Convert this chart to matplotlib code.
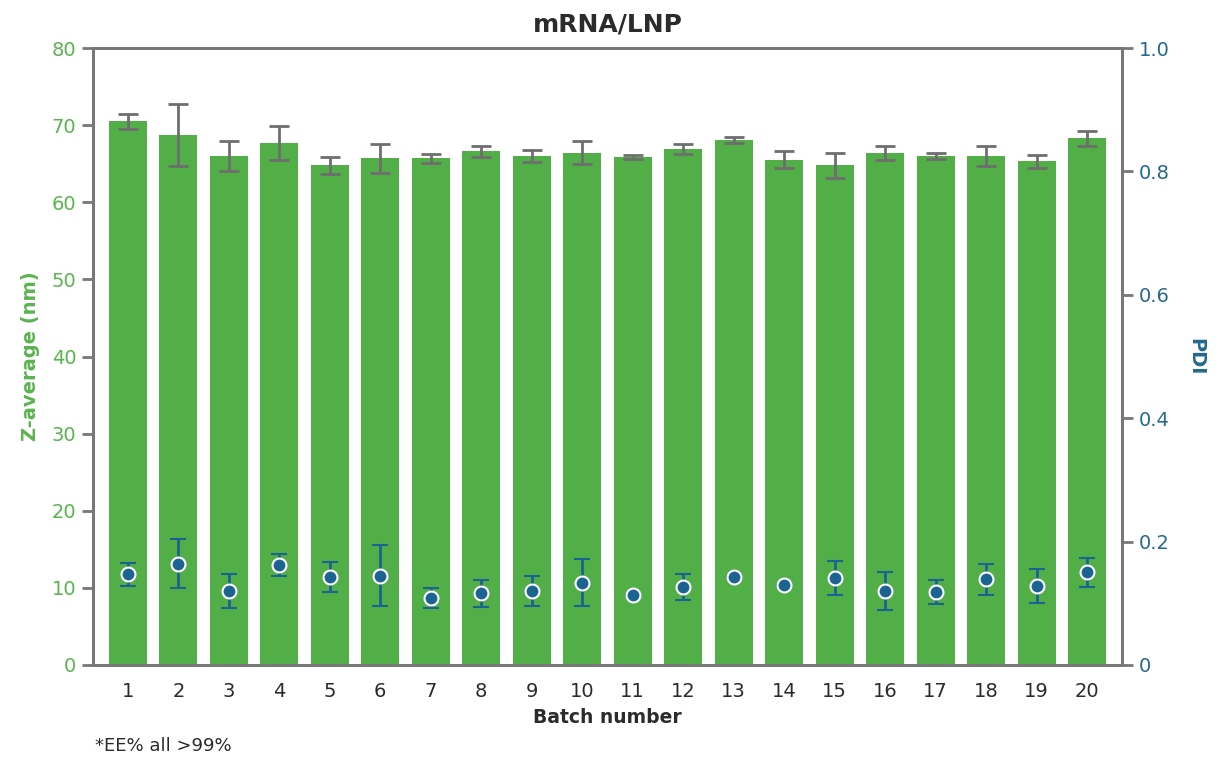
import matplotlib
matplotlib.use("Agg")
import matplotlib.pyplot as plt
import numpy as np

batches = list(range(1, 21))
z_avg = [70.5, 68.7, 66.0, 67.7, 64.8, 65.7, 65.7, 66.6, 66.0, 66.4,
         65.9, 66.9, 68.1, 65.5, 64.8, 66.4, 66.0, 66.0, 65.3, 68.3]
z_err = [1.0, 4.0, 2.0, 2.2, 1.1, 1.85, 0.55, 0.7, 0.75, 1.5,
         0.25, 0.6, 0.35, 1.1, 1.65, 0.9, 0.45, 1.35, 0.8, 1.0]
pdi = [0.147, 0.164, 0.120, 0.162, 0.143, 0.145, 0.108, 0.116, 0.120, 0.133,
       0.114, 0.126, 0.143, 0.130, 0.141, 0.120, 0.118, 0.139, 0.128, 0.150]
pdi_err = [0.019, 0.040, 0.028, 0.018, 0.024, 0.049, 0.016, 0.022, 0.024, 0.038,
           0.0, 0.021, 0.0, 0.0, 0.028, 0.031, 0.019, 0.025, 0.027, 0.024]
left_ticks = [0, 10, 20, 30, 40, 50, 60, 70, 80]
right_ticks = [0, 0.2, 0.4, 0.6, 0.8, 1.0]
right_labels = ["0", "0.2", "0.4", "0.6", "0.8", "1.0"]

GREEN = "#52ae47"
GREEN_TXT = "#5bb450"
BLUE = "#1b6391"
BLUE_TXT = "#23698f"
GRAY = "#777777"
DARK = "#2b2b2b"

plt.rcParams['font.family'] = ['DejaVu Sans']

fig = plt.figure(figsize=(12.19, 7.60), dpi=100)
ax = fig.add_axes([0.0763, 0.125, 0.9204 - 0.0763, 0.9368 - 0.125])
ax2 = ax.twinx()

ax.bar(batches, z_avg, width=0.75, color=GREEN, zorder=2)
ax.errorbar(batches, z_avg, yerr=z_err, fmt='none', ecolor="#6e6e6e",
            elinewidth=2, capsize=7, capthick=2, zorder=3)

ax2.errorbar(batches, pdi, yerr=pdi_err, fmt='o', color=BLUE, ecolor=BLUE,
             elinewidth=2, capsize=6, capthick=2, markersize=10,
             markeredgecolor='white', markeredgewidth=1.5, zorder=4)

ax.set_xlim(0.31, 20.69)
ax.set_ylim(0, 80)
ax2.set_ylim(0, 1.0)

ax.set_yticks(left_ticks)
ax.set_yticklabels([str(t) for t in left_ticks])
ax2.set_yticks(right_ticks)
ax2.set_yticklabels(right_labels)
ax.set_xticks(batches)
ax.set_xticklabels([str(b) for b in batches])

for a in (ax, ax2):
    for s in a.spines.values():
        s.set_color(GRAY)
        s.set_linewidth(2)

ax.tick_params(axis='y', colors=GRAY, labelcolor=GREEN_TXT, labelsize=14,
               length=8, width=2, direction='out', pad=4)
ax2.tick_params(axis='y', colors=GRAY, labelcolor=BLUE_TXT, labelsize=14,
                length=8, width=2, direction='out', pad=4)
ax.tick_params(axis='x', length=0, labelsize=14, labelcolor=DARK, pad=12)

ax.set_ylabel("Z-average (nm)", color=GREEN_TXT, fontsize=14, fontweight='bold', labelpad=8)
ax2.set_ylabel("PDI", color=BLUE_TXT, fontsize=14, fontweight='bold', rotation=270, labelpad=26)
ax.set_xlabel("Batch number", color=DARK, fontsize=13.5, fontweight='bold', labelpad=5)
ax.set_title("mRNA/LNP", color=DARK, fontsize=18, fontweight='bold', pad=12)

fig.text(0.078, 0.012, "*EE% all >99%", color=DARK, fontsize=13)

ax.set_zorder(1)
ax2.set_zorder(2)
ax2.patch.set_visible(False)

fig.savefig("out.png", dpi=100)
